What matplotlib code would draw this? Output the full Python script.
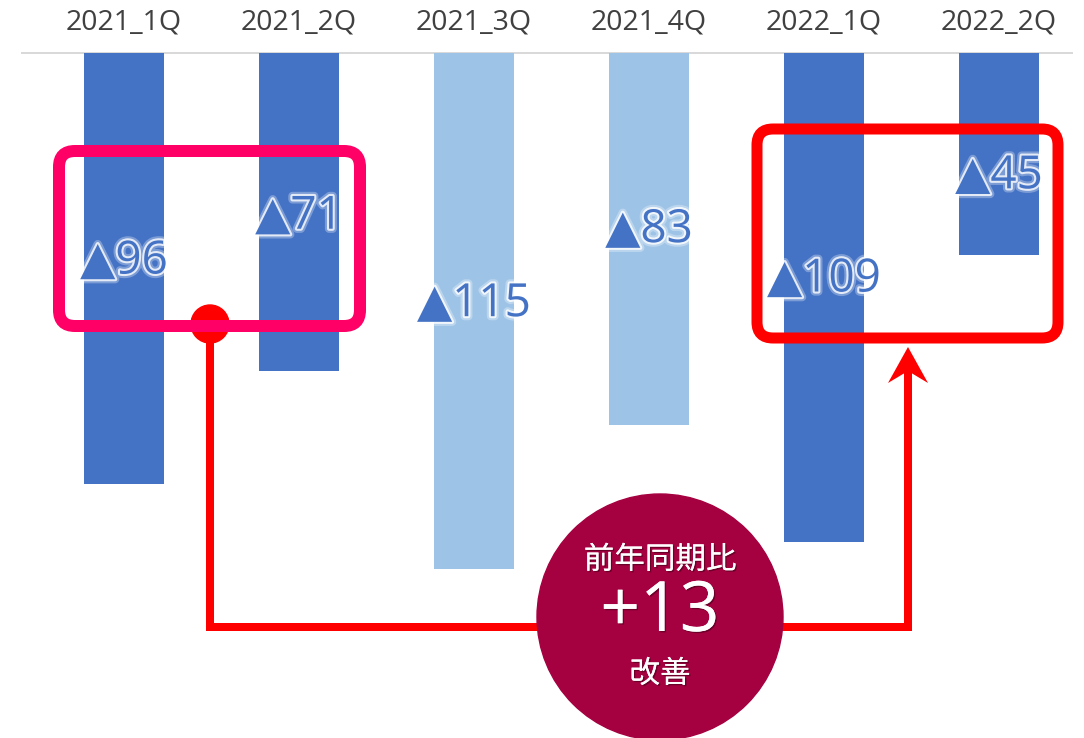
import matplotlib.pyplot as plt
import matplotlib.patheffects as pe
from matplotlib.patches import FancyBboxPatch, Circle, Polygon


# Data
quarters = ["2021_1Q", "2021_2Q", "2021_3Q", "2021_4Q", "2022_1Q", "2022_2Q"]
losses = [96, 71, 115, 83, 109, 45]
label_depth = [46.5, 36.5, 56.0, 39.5, 50.5, 27.5]
is_current_half = [True, True, False, False, True, True]

DARK_BLUE = "#4472C4"
LIGHT_BLUE = "#9DC3E6"
CJK = ["Noto Sans CJK JP", "DejaVu Sans"]
LATIN = ["Open Sans", "DejaVu Sans"]


def px(v):
    """pixels -> points at dpi 100"""
    return v * 0.72


def draw_bars(ax):
    colors = [DARK_BLUE if c else LIGHT_BLUE for c in is_current_half]
    x = range(len(quarters))
    ax.bar(x, losses, width=0.457, color=colors, zorder=2)

    # bars hang from the top line: 0 at y=53px, about 4.485 px per unit
    ax.set_xlim(-124 / 175, -124 / 175 + 1084 / 175)
    ax.set_ylim((738 - 53) / 4.485, -53 / 4.485)
    ax.axis("off")

    ax.axhline(0, xmin=22 / 1084, xmax=1072 / 1084, color="#D9D9D9", lw=px(2), zorder=1)

    for i, q in enumerate(quarters):
        ax.text(i, -31 / 4.485, q, ha="center", va="center", fontsize=20.5,
                color="#404040", family=LATIN)

    # soft white glow round the labels
    glow = [pe.Stroke(linewidth=6, foreground="white", alpha=0.3),
            pe.Stroke(linewidth=3, foreground="white", alpha=0.8),
            pe.Normal()]
    for i, v in enumerate(losses):
        ax.text(i, label_depth[i], "▲" + str(v), ha="center", va="center",
                fontsize=33, color=DARK_BLUE, family=LATIN, zorder=6,
                path_effects=glow)


def draw_callouts(ov):
    # overlay in pixel coordinates
    ov.set_xlim(0, 1084)
    ov.set_ylim(738, 0)
    ov.axis("off")

    pink_box = FancyBboxPatch((59, 151), 301, 175, boxstyle="round,pad=0,rounding_size=16",
                              fill=False, ec="#FF0066", lw=px(12), zorder=5)
    red_box = FancyBboxPatch((757, 129), 301, 209, boxstyle="round,pad=0,rounding_size=16",
                             fill=False, ec="#FF0000", lw=px(11), zorder=5)
    ov.add_patch(pink_box)
    ov.add_patch(red_box)

    ov.add_patch(Circle((210, 324), 19, color="#FF0000", zorder=4))
    ov.plot([210, 210, 908, 908], [324, 627, 627, 372], color="#FF0000",
            lw=px(8), solid_joinstyle="miter", zorder=3)
    head = Polygon([(908, 347), (928, 383), (908, 371), (888, 383)], closed=True,
                   color="#FF0000", lw=0, zorder=4)
    ov.add_patch(head)

    ov.add_patch(Circle((660, 617), 123, color="#A50040", zorder=6))

    shadow = [pe.withSimplePatchShadow(offset=(1, -1), shadow_rgbFace="black", alpha=0.35), pe.Normal()]
    ov.text(660, 560, "前年同期比", ha="center", va="center", fontsize=22,
            color="white", family=CJK, zorder=7, path_effects=shadow)
    ov.text(660, 613, "+13", ha="center", va="center", fontsize=50,
            color="white", family=LATIN, zorder=7, path_effects=shadow)
    ov.text(660, 674, "改善", ha="center", va="center", fontsize=22,
            color="white", family=CJK, zorder=7, path_effects=shadow)


def main():
    fig = plt.figure(figsize=(10.84, 7.38), dpi=100)
    ax = fig.add_axes([0, 0, 1, 1])
    draw_bars(ax)

    ov = fig.add_axes([0, 0, 1, 1])
    ov.patch.set_alpha(0)
    draw_callouts(ov)

    fig.savefig("out.png", dpi=100)


if __name__ == "__main__":
    main()
